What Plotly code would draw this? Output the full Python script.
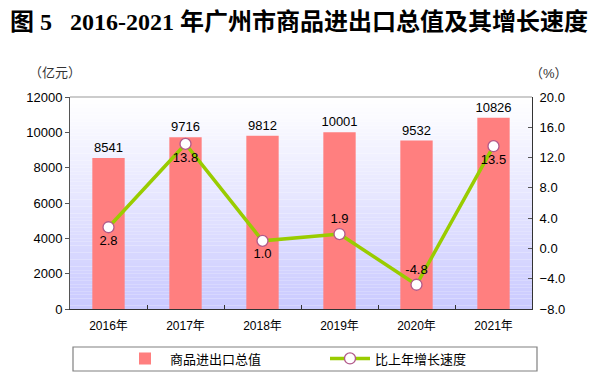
import plotly.graph_objects as go

years = ["2016年", "2017年", "2018年", "2019年", "2020年", "2021年"]
total_value = [8541, 9716, 9812, 10001, 9532, 10826]
growth = [2.8, 13.8, 1.0, 1.9, -4.8, 13.5]
growth_pos = ["bottom center", "bottom center", "bottom center", "top center", "top center", "bottom center"]
bar_name = "商品进出口总值"
line_name = "比上年增长速度"
title_text = "图 5   2016-2021 年广州市商品进出口总值及其增长速度"

font_main = "Liberation Sans, Arial, Noto Sans CJK SC, sans-serif"

L, R, T, B = 70, 532, 97, 309
PW, PH = R - L, B - T


def px_x(x):
    return (x - L) / PW


def px_y(y):
    return (B - y) / PH


fig = go.Figure()
fig.add_trace(go.Bar(
    x=years, y=total_value, name=bar_name,
    marker=dict(color="#ff7f7f", line=dict(width=0)),
    width=0.42,
    text=[str(v) for v in total_value], textposition="outside", constraintext="none",
    textfont=dict(size=13, color="#000000"), cliponaxis=False,
))
fig.add_trace(go.Scatter(
    x=years, y=growth, name=line_name, yaxis="y2",
    mode="lines+markers+text",
    line=dict(color="#99cc00", width=3.5),
    marker=dict(size=11, color="#ffffff", line=dict(color="#b25a8a", width=1.3)),
    text=[f"{v:.1f}" for v in growth], textposition=growth_pos,
    textfont=dict(size=13, color="#000000"), cliponaxis=False,
))

# gradient background for plot area
shapes = []
n = 60
top = (255, 255, 255)
bot = (202, 202, 255)
for i in range(n):
    t = i / (n - 1)
    c = tuple(int(round(top[k] + (bot[k] - top[k]) * t)) for k in range(3))
    shapes.append(dict(type="rect", xref="paper", yref="paper", layer="below",
                       x0=0, x1=1, y0=1 - (i + 1) / n, y1=1 - i / n,
                       fillcolor=f"rgb{c}", line=dict(width=0)))
# top border of plot
shapes.append(dict(type="line", xref="paper", yref="paper", x0=0, x1=1, y0=1, y1=1,
                   line=dict(color="#999999", width=1)))
# legend box
shapes.append(dict(type="rect", xref="paper", yref="paper",
                   x0=px_x(73), x1=px_x(537), y0=px_y(371), y1=px_y(347),
                   line=dict(color="#808080", width=1.2), fillcolor="rgba(0,0,0,0)"))

fig.update_layout(
    width=602, height=378,
    margin=dict(l=L, r=602 - R, t=T, b=378 - B, autoexpand=False),
    paper_bgcolor="#ffffff", plot_bgcolor="rgba(0,0,0,0)",
    font=dict(family=font_main, size=12, color="#000000"),
    showlegend=True,
    legend=dict(orientation="h", x=px_x(120), xanchor="left", y=px_y(358.5), yanchor="middle",
                bgcolor="rgba(0,0,0,0)", font=dict(size=13), entrywidth=150, itemwidth=40),
    shapes=shapes,
    xaxis=dict(showline=True, linecolor="#333333", linewidth=1, ticks="inside",
               tickson="boundaries", ticklen=4, tickcolor="#333333",
               tickfont=dict(size=12), showgrid=False, ticklabelstandoff=6),
    yaxis=dict(range=[0, 12000], dtick=2000, showline=True, linecolor="#555555",
               ticks="outside", ticklen=4, tickcolor="#555555", showgrid=False,
               zeroline=False, tickformat="d", tickfont=dict(size=13)),
    yaxis2=dict(range=[-8, 20], dtick=4, overlaying="y", side="right", showline=True,
                linecolor="#333333", ticks="inside", ticklen=4, tickcolor="#555555",
                showgrid=False, zeroline=False, tickformat=".1f", tickfont=dict(size=13),
                ticklabelstandoff=4),
    bargap=0.5,
    annotations=[
        dict(text="<b>" + title_text + "</b>", xref="paper", yref="paper", x=px_x(8), y=px_y(22),
             xanchor="left", yanchor="middle", showarrow=False,
             font=dict(family="Liberation Serif, Noto Sans CJK SC, serif", size=24, color="#000000")),
        dict(text="（亿元）", xref="paper", yref="paper", x=px_x(55), y=px_y(72),
             xanchor="center", yanchor="middle", showarrow=False, font=dict(size=13, color="#333333")),
        dict(text="（%）", xref="paper", yref="paper", x=px_x(549), y=px_y(73),
             xanchor="center", yanchor="middle", showarrow=False, font=dict(size=13, color="#333333")),
    ],
)
fig.write_html("out.html", config={"displayModeBar": False},
               post_script="document.body.style.margin='0';")
